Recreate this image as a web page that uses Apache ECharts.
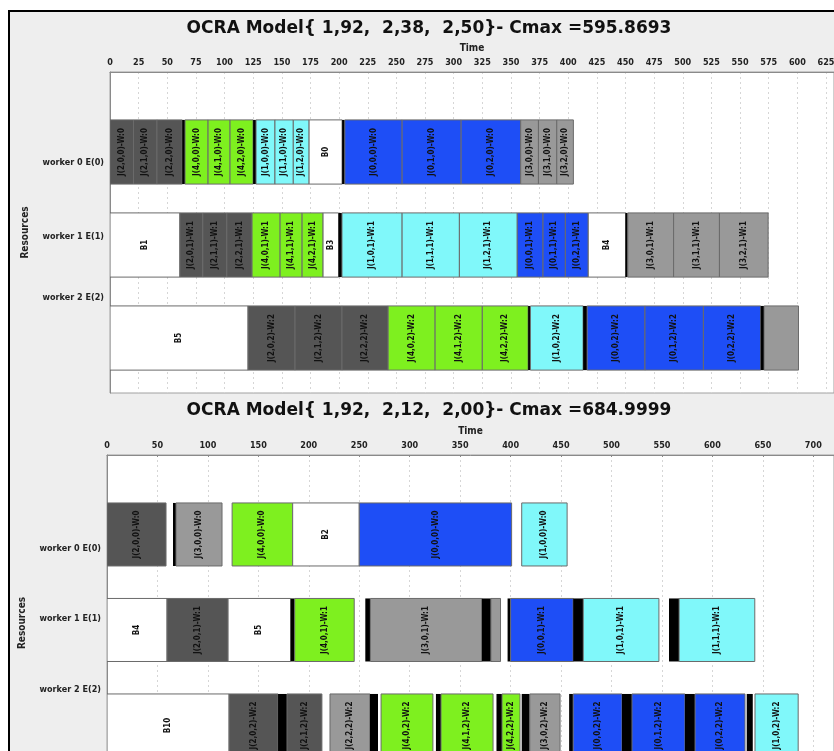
<!DOCTYPE html>
<html>
<head>
<meta charset="utf-8">
<script src="https://cdn.jsdelivr.net/npm/echarts@6/dist/echarts.min.js"></script>
<style>
html, body { margin: 0; padding: 0; background: #ffffff; }
#chart { width: 834px; height: 751px; }
</style>
</head>
<body>
<div id="chart"></div>
<script>
// ---- schedule data: [start, end, label, kind] per worker ----
const workers = ['worker 0 E(0)', 'worker 1 E(1)', 'worker 2 E(2)'];
const titleA = 'OCRA Model{ 1,92,  2,38,  2,50}- Cmax =595.8693';
const titleB = 'OCRA Model{ 1,92,  2,12,  2,00}- Cmax =684.9999';
const axisTitle = 'Time';
const rowTitle = 'Resources';

// first schedule
const a0 = [
  [0, 20.5, 'J(2,0,0)-W:0', 'dk'], [20.5, 41, 'J(2,1,0)-W:0', 'dk'], [41, 63, 'J(2,2,0)-W:0', 'dk'],
  [63, 65.5, '', 'bk'],
  [65.5, 85.6, 'J(4,0,0)-W:0', 'gr'], [85.6, 104.8, 'J(4,1,0)-W:0', 'gr'], [104.8, 124.9, 'J(4,2,0)-W:0', 'gr'],
  [124.9, 127.5, '', 'bk'],
  [127.5, 144, 'J(1,0,0)-W:0', 'cy'], [144, 160, 'J(1,1,0)-W:0', 'cy'], [160, 173.8, 'J(1,2,0)-W:0', 'cy'],
  [173.8, 202.6, 'B0', 'wh'],
  [202.6, 205, '', 'bk'],
  [205, 255, 'J(0,0,0)-W:0', 'bl'], [255, 306.5, 'J(0,1,0)-W:0', 'bl'], [306.5, 358.5, 'J(0,2,0)-W:0', 'bl'],
  [358.5, 374, 'J(3,0,0)-W:0', 'lg'], [374, 390, 'J(3,1,0)-W:0', 'lg'], [390, 404.5, 'J(3,2,0)-W:0', 'lg']
];
const a1 = [
  [0, 61, 'B1', 'wh'],
  [61, 81, 'J(2,0,1)-W:1', 'dk'], [81, 102, 'J(2,1,1)-W:1', 'dk'], [102, 124, 'J(2,2,1)-W:1', 'dk'],
  [124, 148.5, 'J(4,0,1)-W:1', 'gr'], [148.5, 167.7, 'J(4,1,1)-W:1', 'gr'], [167.7, 186, 'J(4,2,1)-W:1', 'gr'],
  [186, 199.5, 'B3', 'wh'],
  [199.5, 202.5, '', 'bk'],
  [202.5, 255, 'J(1,0,1)-W:1', 'cy'], [255, 305, 'J(1,1,1)-W:1', 'cy'], [305, 355.5, 'J(1,2,1)-W:1', 'cy'],
  [355.5, 378, 'J(0,0,1)-W:1', 'bl'], [378, 397.5, 'J(0,1,1)-W:1', 'bl'], [397.5, 417.5, 'J(0,2,1)-W:1', 'bl'],
  [417.5, 450, 'B4', 'wh'],
  [450, 452, '', 'bk'],
  [452, 492, 'J(3,0,1)-W:1', 'lg'], [492, 532, 'J(3,1,1)-W:1', 'lg'], [532, 574.5, 'J(3,2,1)-W:1', 'lg']
];
const a2 = [
  [0, 120.5, 'B5', 'wh'],
  [120.5, 161.5, 'J(2,0,2)-W:2', 'dk'], [161.5, 202.5, 'J(2,1,2)-W:2', 'dk'], [202.5, 242.8, 'J(2,2,2)-W:2', 'dk'],
  [242.8, 283.8, 'J(4,0,2)-W:2', 'gr'], [283.8, 325, 'J(4,1,2)-W:2', 'gr'], [325, 365, 'J(4,2,2)-W:2', 'gr'],
  [365, 367, '', 'bk'],
  [367, 413, 'J(1,0,2)-W:2', 'cy'],
  [413, 416.5, '', 'bk'],
  [416.5, 467, 'J(0,0,2)-W:2', 'bl'], [467, 518, 'J(0,1,2)-W:2', 'bl'], [518, 568, 'J(0,2,2)-W:2', 'bl'],
  [568, 571, '', 'bk'],
  [571, 601, '', 'lg']
];

// second schedule
const b0 = [
  [0, 58.5, 'J(2,0,0)-W:0', 'dk'],
  [65.4, 68.4, '', 'bk'],
  [68.4, 114, 'J(3,0,0)-W:0', 'lg'],
  [124, 184, 'J(4,0,0)-W:0', 'gr'],
  [184, 250, 'B2', 'wh'],
  [250, 401, 'J(0,0,0)-W:0', 'bl'],
  [411, 456, 'J(1,0,0)-W:0', 'cy']
];
const b1 = [
  [0, 59.5, 'B4', 'wh'],
  [59.5, 120, 'J(2,0,1)-W:1', 'dk'],
  [120, 182, 'B5', 'wh'],
  [182, 186, '', 'bk'],
  [186, 245, 'J(4,0,1)-W:1', 'gr'],
  [256, 261, '', 'bk'],
  [261, 371.5, 'J(3,0,1)-W:1', 'lg'],
  [371.5, 380.5, '', 'bk'],
  [380.5, 390, '', 'lg'],
  [397, 400, '', 'bk'],
  [400, 462, 'J(0,0,1)-W:1', 'bl'],
  [462, 472, '', 'bk'],
  [472, 547, 'J(1,0,1)-W:1', 'cy'],
  [557, 567, '', 'bk'],
  [567, 642, 'J(1,1,1)-W:1', 'cy']
];
const b2 = [
  [0, 121, 'B10', 'wh'],
  [121, 169.5, 'J(2,0,2)-W:2', 'dk'],
  [169.5, 178.4, '', 'bk'],
  [178.4, 213, 'J(2,1,2)-W:2', 'dk'],
  [221, 260.6, 'J(2,2,2)-W:2', 'lg'],
  [260.6, 268.6, '', 'bk'],
  [271.6, 323, 'J(4,0,2)-W:2', 'gr'],
  [326, 331, '', 'bk'],
  [331, 382.6, 'J(4,1,2)-W:2', 'gr'],
  [386, 391.5, '', 'bk'],
  [391.5, 409.3, 'J(4,2,2)-W:2', 'gr'],
  [411, 419, '', 'bk'],
  [419, 449, 'J(3,0,2)-W:2', 'lg'],
  [458, 462, '', 'bk'],
  [462, 510.4, 'J(0,0,2)-W:2', 'bl'],
  [510.4, 520.3, '', 'bk'],
  [520.3, 572.8, 'J(0,1,2)-W:2', 'bl'],
  [572.8, 582.8, '', 'bk'],
  [582.8, 632.3, 'J(0,2,2)-W:2', 'bl'],
  [634, 640, '', 'bk'],
  [642.2, 685, 'J(1,0,2)-W:2', 'cy']
];

const tickStepA = 25;
const tickStepB = 50;

// ---- styles ----
const FONT = '"DejaVu Sans Condensed", "DejaVu Sans", sans-serif';
const TITLE_FONT = '"DejaVu Sans", sans-serif';
const fills = { dk: '#555555', gr: '#7ef01f', cy: '#80f8fa', bl: '#1e4ef6', lg: '#999999', wh: '#ffffff', bk: '#000000' };

function rowsOf(list) {
  const out = [];
  list.forEach((rows, r) => rows.forEach(d => out.push([d[0], d[1], r, d[2], d[3]])));
  return out;
}
const dataA = rowsOf([a0, a1, a2]);
const dataB = rowsOf([b0, b1, b2]);

function makeRender(data, frac) {
  return function (params, api) {
    const d = data[params.dataIndex];
    const p0 = api.coord([api.value(0), api.value(2)]);
    const p1 = api.coord([api.value(1), api.value(2)]);
    const h = api.size([0, 1])[1] * frac;
    const kind = d[4];
    const el = {
      type: 'rect',
      shape: { x: p0[0], y: p0[1] - h / 2, width: p1[0] - p0[0], height: h },
      style: {
        fill: fills[kind],
        stroke: kind === 'bk' ? null : '#6a6a6a',
        lineWidth: 1
      }
    };
    if (d[3]) {
      el.textContent = {
        style: {
          text: d[3], fill: '#111', font: 'bold 8px ' + FONT,
          align: 'center', verticalAlign: 'middle'
        }
      };
      el.textConfig = { position: 'inside', rotation: Math.PI / 2 };
    }
    return el;
  };
}

// label shift (px) for each resource name, applied through rich padding
function labelAxis(gridIndex, shifts, nameGap) {
  const rich = {};
  shifts.forEach((s, i) => {
    rich['r' + i] = {
      fontSize: 9, fontWeight: 'bold', fontFamily: FONT, color: '#222',
      padding: s >= 0 ? [2 * s, 0, 0, 0] : [0, 0, -2 * s, 0]
    };
  });
  return {
    gridIndex, type: 'category', data: workers, inverse: true, position: 'left',
    axisLine: { show: true, onZero: false, lineStyle: { color: '#8a8a8a', width: 1 } },
    axisTick: { show: false }, splitLine: { show: false },
    axisLabel: { margin: 6, formatter: (v, i) => '{r' + i + '|' + v + '}', rich },
    name: rowTitle, nameLocation: 'middle', nameRotate: 90, nameGap,
    nameTextStyle: { fontSize: 10, fontWeight: 'bold', fontFamily: FONT, color: '#222' }
  };
}

function timeAxis(gridIndex, max, step, withTicks) {
  return {
    gridIndex, type: 'value', position: 'top', min: 0, max, interval: step,
    name: axisTitle, nameLocation: 'middle', nameGap: 19,
    nameTextStyle: { fontSize: 10, fontWeight: 'bold', fontFamily: FONT, color: '#222' },
    axisLine: { show: true, onZero: false, lineStyle: { color: '#8a8a8a' } },
    axisTick: { show: withTicks, inside: true, length: 2, lineStyle: { color: '#8a8a8a' } },
    axisLabel: { fontSize: 9, fontWeight: 'bold', fontFamily: FONT, color: '#222', margin: 5, showMaxLabel: false },
    splitLine: { show: true, lineStyle: { color: '#d6d6d6', type: [2, 3], width: 1 } }
  };
}

const chart = echarts.init(document.getElementById('chart'), null, { renderer: 'canvas' });
chart.setOption({
  backgroundColor: '#eeeeee',
  animation: false,
  title: [
    { text: titleA, left: 424, top: 15, textAlign: 'center',
      textStyle: { fontSize: 17, fontWeight: 'bold', fontFamily: TITLE_FONT, color: '#111' } },
    { text: titleB, left: 424, top: 397, textAlign: 'center',
      textStyle: { fontSize: 17, fontWeight: 'bold', fontFamily: TITLE_FONT, color: '#111' } }
  ],
  graphic: [
    { type: 'rect', shape: { x: 0, y: 0, width: 8, height: 751 }, style: { fill: '#ffffff' }, silent: true },
    { type: 'rect', shape: { x: 0, y: 0, width: 834, height: 10 }, style: { fill: '#ffffff' }, silent: true },
    { type: 'rect', shape: { x: 8, y: 10, width: 826, height: 2 }, style: { fill: '#000000' }, silent: true },
    { type: 'rect', shape: { x: 8, y: 10, width: 2, height: 741 }, style: { fill: '#000000' }, silent: true }
  ],
  grid: [
    { left: 110, right: 0, top: 72, height: 321, show: true, outerBoundsMode: 'none', containLabel: false,
      backgroundColor: '#ffffff', borderColor: '#a0a0a0', borderWidth: 1 },
    { left: 107, right: 0, top: 455, height: 336, show: true, outerBoundsMode: 'none', containLabel: false,
      backgroundColor: '#ffffff', borderColor: '#a0a0a0', borderWidth: 1 }
  ],
  xAxis: [
    timeAxis(0, 632, tickStepA, false),
    timeAxis(1, 720.5, tickStepB, true)
  ],
  yAxis: [
    { gridIndex: 0, type: 'value', inverse: true, min: -0.86, max: 2.591, show: false, splitLine: { show: false } },
    labelAxis(0, [37, 4, -42], 80),
    { gridIndex: 1, type: 'value', inverse: true, min: -0.832, max: 2.686, show: false, splitLine: { show: false } },
    labelAxis(1, [38, -4, -45], 80)
  ],
  series: [
    { type: 'custom', xAxisIndex: 0, yAxisIndex: 0, renderItem: makeRender(dataA, 0.69),
      encode: { x: [0, 1], y: 2 }, data: dataA.map(d => [d[0], d[1], d[2]]), clip: true },
    { type: 'custom', xAxisIndex: 1, yAxisIndex: 2, renderItem: makeRender(dataB, 0.66),
      encode: { x: [0, 1], y: 2 }, data: dataB.map(d => [d[0], d[1], d[2]]), clip: true }
  ]
});
</script>
</body>
</html>
